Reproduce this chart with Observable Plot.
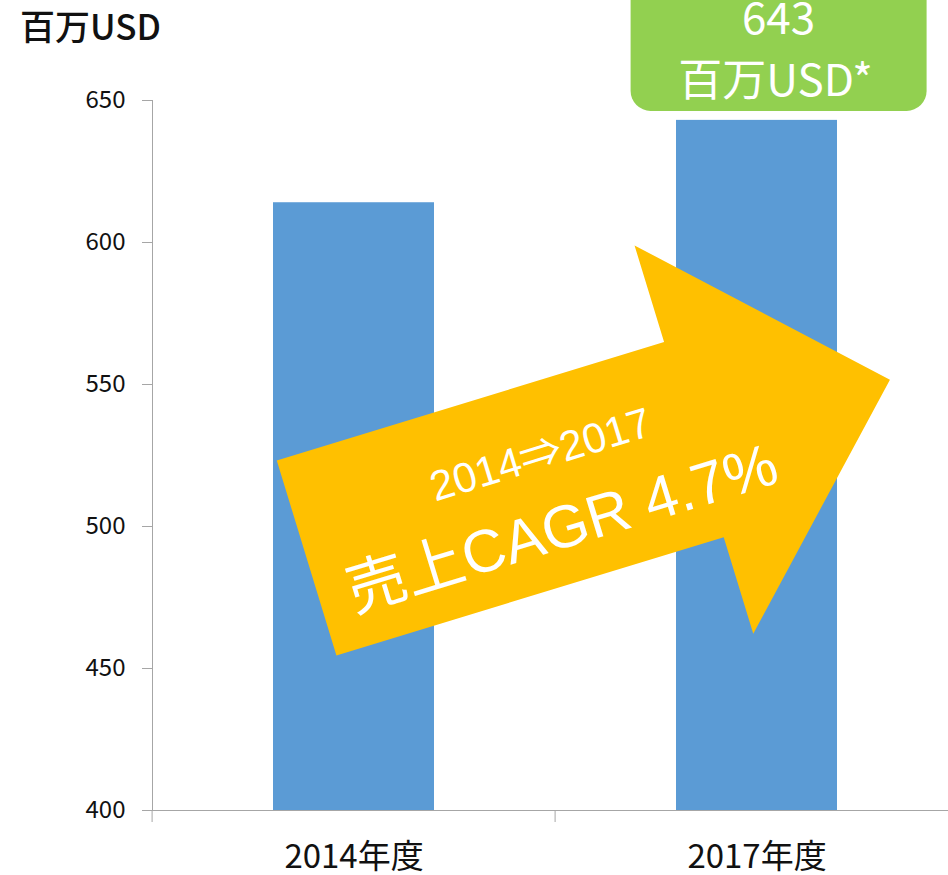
<!DOCTYPE html>
<html><head><meta charset="utf-8">
<script src="https://cdn.jsdelivr.net/npm/d3@7"></script>
<script src="https://cdn.jsdelivr.net/npm/@observablehq/plot@0.6"></script>
<style>body{margin:0;background:#fff} svg{display:block}</style>
</head><body><div id="chart"></div>
<script>
// ---- data ----
const categories = ["2014年度", "2017年度"];
const sales = [614, 643];
const yTicks = [400, 450, 500, 550, 600, 650];
const unitLabel = "百万USD";
const calloutValue = "643";
const calloutUnit = "百万USD*";
const arrowPeriod = "2014⇒2017";
const arrowLabel = "売上CAGR 4.7%";

const rows = categories.map((c, i) => ({cat: c, value: sales[i]}));

const W = 948, H = 875;
const cjk = "'Noto Sans CJK JP', 'Noto Sans', sans-serif";
const latin = "'Liberation Sans', Arial, 'Noto Sans CJK JP', sans-serif";
const axisGray = "#A6A6A6";

function overlay(index, scales, values, dims) {
  const x = scales.x, y = scales.y;
  const step = x(categories[1]) - x(categories[0]);
  const bw = step * 0.4;
  const cx = c => x(c) + bw / 2;
  const g = d3.create("svg:g");
  const base = y(yTicks[0]);
  // band-boundary ticks on the category axis
  const x0 = x(categories[0]) - 0.3 * step;
  for (let i = 0; i <= categories.length; i++) {
    g.append("line")
      .attr("x1", x0 + i * step).attr("x2", x0 + i * step)
      .attr("y1", base).attr("y2", base + 12)
      .attr("stroke", axisGray);
  }
  // unit title
  g.append("text").attr("x", 20).attr("y", 40)
    .attr("text-anchor", "start")
    .attr("font-family", cjk).attr("font-size", 35).attr("font-weight", 500)
    .attr("fill", "#111").text(unitLabel);

  // callout box above the 2017 bar
  const bx = cx(categories[1]) + 22, by = y(sales[1]) - 9;
  g.append("rect").attr("x", bx - 148).attr("y", by - 150)
    .attr("width", 296).attr("height", 150).attr("rx", 20).attr("fill", "#92D050");
  g.append("text").attr("x", bx).attr("y", by - 77)
    .attr("text-anchor", "middle").attr("font-family", cjk).attr("font-size", 44)
    .attr("fill", "#fff").text(calloutValue);
  g.append("text").attr("x", bx - 3).attr("y", by - 15)
    .attr("text-anchor", "middle").attr("font-family", cjk).attr("font-size", 44)
    .attr("fill", "#fff").text(calloutUnit);

  // growth arrow
  const tx = cx(categories[0]) - 47;
  const ty = dims.marginTop + 458;
  const a = g.append("g").attr("transform", `translate(${tx},${ty}) rotate(-17)`);
  const sw = 102, hw = 203, hb = 405, tip = 610;
  a.append("polygon")
    .attr("points", [[0,-sw],[hb,-sw],[hb,-hw],[tip,0],[hb,hw],[hb,sw],[0,sw]].map(p => p.join(",")).join(" "))
    .attr("fill", "#FFC000");
  a.append("text").attr("x", 254).attr("y", -31).attr("dy", "0.35em")
    .attr("text-anchor", "middle").attr("font-family", latin).attr("font-size", 42)
    .attr("fill", "#fff").text(arrowPeriod);
  a.append("text").attr("x", 253).attr("y", 45).attr("dy", "0.35em")
    .attr("text-anchor", "middle").attr("font-family", latin).attr("font-size", 60)
    .attr("fill", "#fff").text(arrowLabel);
  return g.node();
}

const chart = Plot.plot({
  width: W, height: H,
  marginTop: 100, marginBottom: 65, marginLeft: 152, marginRight: 0,
  style: {fontFamily: cjk, background: "#fff"},
  x: {domain: categories, range: [152, 958], paddingInner: 0.6, paddingOuter: 0.3, label: null},
  y: {domain: [yTicks[0], yTicks[yTicks.length - 1]], label: null},
  marks: [
    Plot.barY(rows, {x: "cat", y1: () => yTicks[0], y2: "value", fill: "#5B9BD5"}),
    Plot.frame({anchor: "left", stroke: axisGray}),
    Plot.frame({anchor: "bottom", stroke: axisGray}),
    Plot.axisY(yTicks, {tickSize: 10, tickPadding: 17, fontSize: 24, stroke: axisGray, fill: "#111", label: null}),
    Plot.axisX({tickSize: 0, tickPadding: 34, fontSize: 33, fill: "#111", label: null}),
    overlay
  ]
});
document.getElementById("chart").appendChild(chart);
</script>
</body></html>
